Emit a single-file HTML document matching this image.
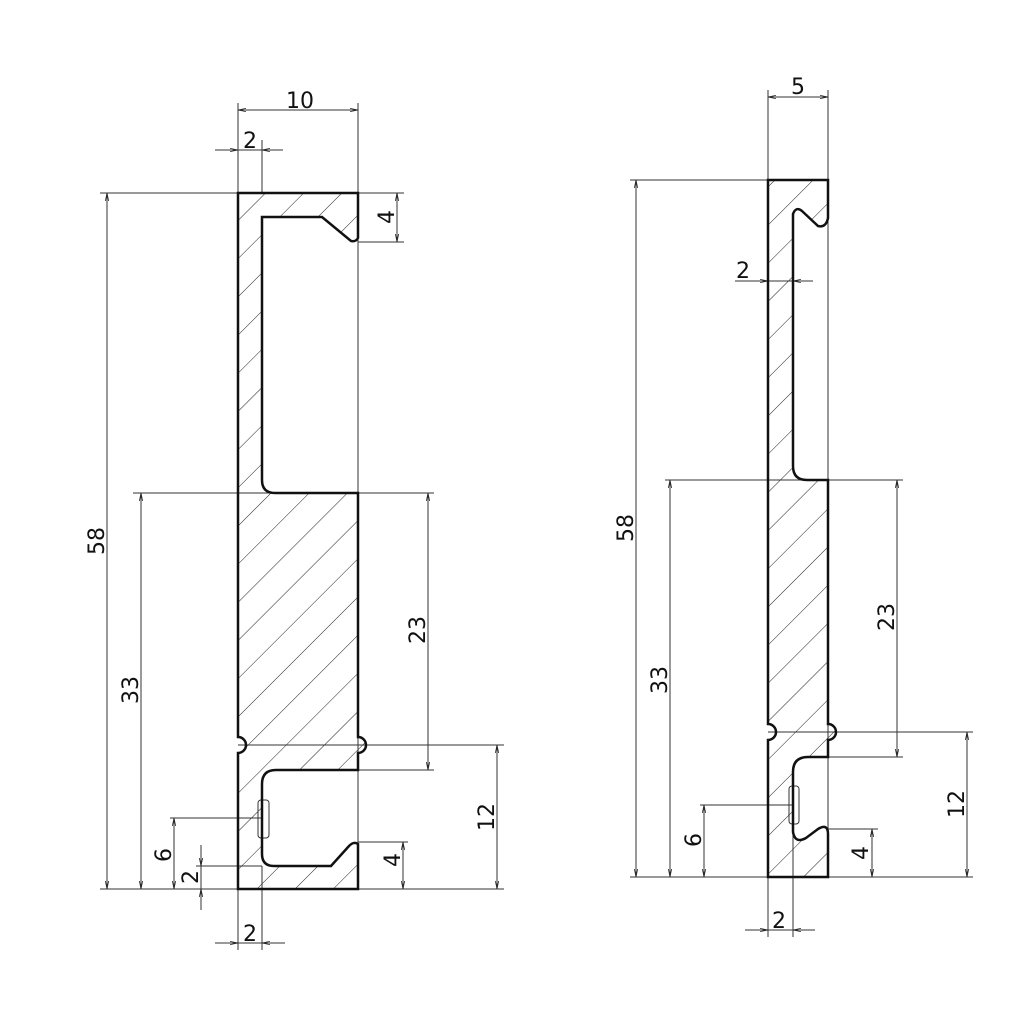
<!DOCTYPE html>
<html><head><meta charset="utf-8"><style>
html,body{margin:0;padding:0;background:#fff;}
svg{display:block;}
text{font-family:"DejaVu Sans","Liberation Sans",sans-serif;font-size:22px;fill:#111;}
</style></head><body>
<svg width="1024" height="1024" viewBox="0 0 1024 1024" xmlns="http://www.w3.org/2000/svg">
<defs>
<pattern id="h" patternUnits="userSpaceOnUse" width="27" height="27" patternTransform="rotate(45)">
<line x1="0" y1="0" x2="0" y2="27" stroke="#222" stroke-width="1"/>
</pattern>
<marker id="a" viewBox="0 0 10 10" refX="10" refY="5" markerWidth="8" markerHeight="8" orient="auto-start-reverse"><path d="M0,3 L10,5 L0,7" fill="none" stroke="#222" stroke-width="1"/></marker>
</defs>
<g stroke="#333" stroke-width="1" fill="none">
<line x1="238" y1="103" x2="238" y2="193"/><line x1="358" y1="103" x2="358" y2="889"/>
<line x1="262" y1="140" x2="262" y2="193"/>
<line x1="100" y1="193" x2="238" y2="193"/><line x1="358" y1="193" x2="404" y2="193"/>
<line x1="358" y1="242" x2="404" y2="242"/>
<line x1="133" y1="493" x2="434" y2="493"/>
<line x1="358" y1="770" x2="434" y2="770"/>
<line x1="238" y1="745" x2="504" y2="745"/>
<line x1="358" y1="842" x2="408" y2="842"/>
<line x1="100" y1="889" x2="504" y2="889"/>
<line x1="170" y1="818" x2="262" y2="818"/>
<line x1="196" y1="866" x2="262" y2="866"/>
<line x1="238" y1="889" x2="238" y2="950"/><line x1="262" y1="866" x2="262" y2="950"/>
<line x1="238" y1="110" x2="358" y2="110" marker-start="url(#a)" marker-end="url(#a)"/>
<line x1="215" y1="150" x2="238" y2="150" marker-end="url(#a)"/><line x1="238" y1="150" x2="262" y2="150"/><line x1="283" y1="150" x2="262" y2="150" marker-end="url(#a)"/>
<line x1="107" y1="193" x2="107" y2="889" marker-start="url(#a)" marker-end="url(#a)"/>
<line x1="141" y1="493" x2="141" y2="889" marker-start="url(#a)" marker-end="url(#a)"/>
<line x1="428" y1="493" x2="428" y2="770" marker-start="url(#a)" marker-end="url(#a)"/>
<line x1="497" y1="745" x2="497" y2="889" marker-start="url(#a)" marker-end="url(#a)"/>
<line x1="397" y1="193" x2="397" y2="242" marker-start="url(#a)" marker-end="url(#a)"/>
<line x1="403" y1="842" x2="403" y2="889" marker-start="url(#a)" marker-end="url(#a)"/>
<line x1="174" y1="818" x2="174" y2="889" marker-start="url(#a)" marker-end="url(#a)"/>
<line x1="201" y1="845" x2="201" y2="866" marker-end="url(#a)"/><line x1="201" y1="866" x2="201" y2="889"/><line x1="201" y1="910" x2="201" y2="889" marker-end="url(#a)"/>
<line x1="215" y1="943" x2="238" y2="943" marker-end="url(#a)"/><line x1="238" y1="943" x2="262" y2="943"/><line x1="285" y1="943" x2="262" y2="943" marker-end="url(#a)"/>
<rect x="258" y="800" width="11" height="38" rx="3"/>
<line x1="768" y1="90" x2="768" y2="180"/><line x1="828" y1="90" x2="828" y2="877"/>
<line x1="630" y1="180" x2="768" y2="180"/>
<line x1="665" y1="480" x2="903" y2="480"/>
<line x1="828" y1="757" x2="903" y2="757"/>
<line x1="768" y1="732" x2="973" y2="732"/>
<line x1="828" y1="829" x2="878" y2="829"/>
<line x1="630" y1="877" x2="973" y2="877"/>
<line x1="700" y1="805" x2="793" y2="805"/>
<line x1="768" y1="877" x2="768" y2="937"/><line x1="793" y1="830" x2="793" y2="937"/>
<line x1="768" y1="97" x2="828" y2="97" marker-start="url(#a)" marker-end="url(#a)"/>
<line x1="735" y1="281" x2="768" y2="281" marker-end="url(#a)"/><line x1="768" y1="281" x2="793" y2="281"/><line x1="813" y1="281" x2="793" y2="281" marker-end="url(#a)"/>
<line x1="636" y1="180" x2="636" y2="877" marker-start="url(#a)" marker-end="url(#a)"/>
<line x1="670" y1="480" x2="670" y2="877" marker-start="url(#a)" marker-end="url(#a)"/>
<line x1="897" y1="480" x2="897" y2="757" marker-start="url(#a)" marker-end="url(#a)"/>
<line x1="967" y1="732" x2="967" y2="877" marker-start="url(#a)" marker-end="url(#a)"/>
<line x1="872" y1="829" x2="872" y2="877" marker-start="url(#a)" marker-end="url(#a)"/>
<line x1="704" y1="805" x2="704" y2="877" marker-start="url(#a)" marker-end="url(#a)"/>
<line x1="745" y1="930" x2="768" y2="930" marker-end="url(#a)"/><line x1="768" y1="930" x2="793" y2="930"/><line x1="815" y1="930" x2="793" y2="930" marker-end="url(#a)"/>
<rect x="789" y="786" width="10" height="38" rx="3"/>
</g>
<path d="M238,193 H358 V238 Q356,242 351,241 L322,217 H262 V480 Q262,493 275,493 H358 V737 A8,8 0 0 1 358,753 V770 H276 Q262,770 262,784 V854 Q262,866 274,866 H331 L349,846 Q354,841 358,844 V889 H238 V753 A8,8 0 0 0 238,737 Z" fill="url(#h)" stroke="#111" stroke-width="2.5"/>
<path d="M768,180 H828 V218 Q826,228 818,226 L802,211 Q796,206 793,214 V466 Q793,480 807,480 H828 V724 A8,8 0 0 1 828,740 V757 H808 Q793,757 793,772 V832 Q795,844 806,838 L818,829 Q828,823 828,834 V877 H768 V740 A8,8 0 0 0 768,724 Z" fill="url(#h)" stroke="#111" stroke-width="2.5"/>
<text x="300" y="108" text-anchor="middle">10</text>
<text x="250" y="148" text-anchor="middle">2</text>
<text x="250" y="941" text-anchor="middle">2</text>
<text transform="translate(104,541) rotate(-90)" text-anchor="middle">58</text>
<text transform="translate(138,690) rotate(-90)" text-anchor="middle">33</text>
<text transform="translate(425,630) rotate(-90)" text-anchor="middle">23</text>
<text transform="translate(494,817) rotate(-90)" text-anchor="middle">12</text>
<text transform="translate(394,217) rotate(-90)" text-anchor="middle">4</text>
<text transform="translate(400,860) rotate(-90)" text-anchor="middle">4</text>
<text transform="translate(171,855) rotate(-90)" text-anchor="middle">6</text>
<text transform="translate(198,877) rotate(-90)" text-anchor="middle">2</text>
<text x="798" y="94" text-anchor="middle">5</text>
<text x="743" y="278" text-anchor="middle">2</text>
<text x="779" y="928" text-anchor="middle">2</text>
<text transform="translate(633,528) rotate(-90)" text-anchor="middle">58</text>
<text transform="translate(667,680) rotate(-90)" text-anchor="middle">33</text>
<text transform="translate(894,617) rotate(-90)" text-anchor="middle">23</text>
<text transform="translate(964,804) rotate(-90)" text-anchor="middle">12</text>
<text transform="translate(868,853) rotate(-90)" text-anchor="middle">4</text>
<text transform="translate(701,840) rotate(-90)" text-anchor="middle">6</text>
</svg>
</body></html>
